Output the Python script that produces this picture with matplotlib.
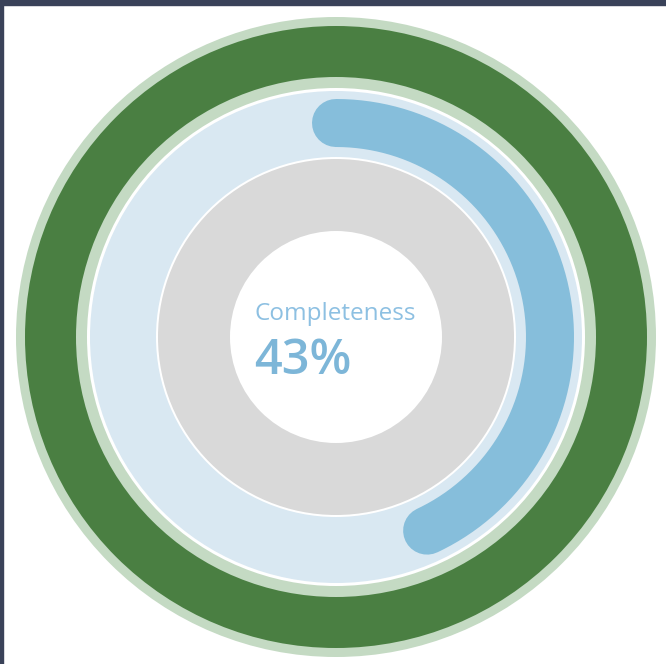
import numpy as np
import matplotlib
matplotlib.use("Agg")
from matplotlib import pyplot as plt
from matplotlib.patches import Circle, Rectangle

## data ##
label = "Completeness"
pct = 43

## colours ##
frame_col = '#3a4259'
green = '#4a7f42'
pale_green = '#c4dac3'
track_col = '#d9e8f2'
arc_col = '#86bedb'
grey = '#d9d9d9'
text_col = '#8dc0e2'
num_col = '#7db6d8'

W, H = 666, 664
cx, cy = 336, 337

fig = plt.figure(figsize=(W / 100, H / 100), dpi=100)
ax = fig.add_axes([0, 0, 1, 1])
ax.set_xlim(0, W)
ax.set_ylim(H, 0)
ax.axis('off')

# dark frame on top and left
ax.add_patch(Rectangle((0, 0), W, 5, color=frame_col, zorder=10))
ax.add_patch(Rectangle((0, 0), 3, H, color=frame_col, zorder=10))

# rings, outside in
rings = [(320, pale_green), (311, green), (260, pale_green), (249, 'white'),
         (246, track_col), (180, 'white'), (178, grey), (106, 'white')]
for r, c in rings:
    ax.add_patch(Circle((cx, cy), r, color=c, lw=0))

# progress arc, clockwise from 12 o'clock
theta = np.radians(np.linspace(90, 90 - 360 * pct / 100, 300))
r_arc = 214
ax.plot(cx + r_arc * np.cos(theta), cy - r_arc * np.sin(theta),
        color=arc_col, lw=48 * 72 / 100, solid_capstyle='round')

# centre text
ax.text(255, 314, label, color=text_col, fontsize=17.5, family='Open Sans',
        ha='left', va='center')
ax.text(254, 361, f"{pct}%", color=num_col, fontsize=35, family='Open Sans',
        weight='semibold', ha='left', va='center')

fig.savefig('out.png', dpi=100)
